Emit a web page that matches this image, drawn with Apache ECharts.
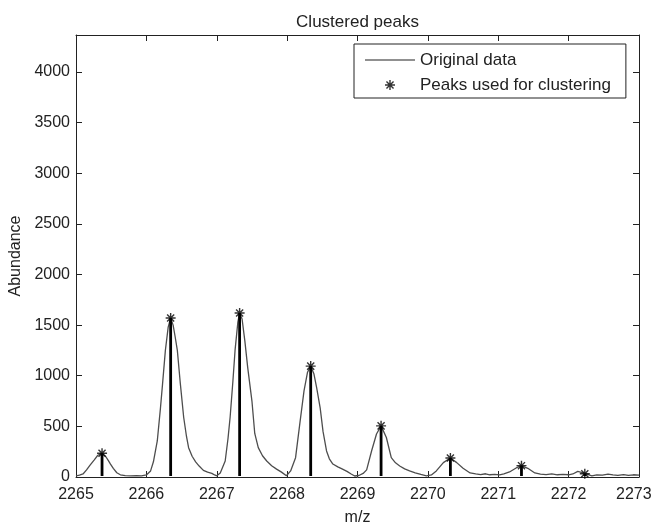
<!DOCTYPE html>
<html>
<head>
<meta charset="utf-8">
<title>Clustered peaks</title>
<script src="https://cdn.jsdelivr.net/npm/echarts@6/dist/echarts.min.js"></script>
<style>
  html, body { margin: 0; padding: 0; background: #fff; }
  #chart { width: 652px; height: 524px; }
</style>
</head>
<body>
<div id="chart"></div>
<script>
// Raw spectrum: m/z positions and abundance
const curveMz = [
  2265.00, 2265.05, 2265.10, 2265.15, 2265.20, 2265.26, 2265.31, 2265.37, 2265.42, 2265.46,
  2265.49, 2265.53, 2265.58, 2265.63, 2265.70, 2265.78, 2265.86, 2265.93, 2266.00, 2266.06,
  2266.10, 2266.155, 2266.20, 2266.23, 2266.27, 2266.31, 2266.345, 2266.38, 2266.41, 2266.44,
  2266.48, 2266.53, 2266.57, 2266.60, 2266.65, 2266.70, 2266.75, 2266.81, 2266.87, 2266.93,
  2266.97, 2267.00, 2267.05, 2267.12, 2267.16, 2267.19, 2267.23, 2267.26, 2267.30, 2267.325,
  2267.36, 2267.40, 2267.44, 2267.50, 2267.54, 2267.59, 2267.65, 2267.71, 2267.78, 2267.85,
  2267.92, 2267.99, 2268.05, 2268.12, 2268.18, 2268.24, 2268.29, 2268.335, 2268.38, 2268.42,
  2268.47, 2268.51, 2268.56, 2268.60, 2268.65, 2268.72, 2268.78, 2268.85, 2268.91, 2268.96,
  2269.02, 2269.08, 2269.13, 2269.20, 2269.27, 2269.335, 2269.41, 2269.48, 2269.54, 2269.60,
  2269.67, 2269.74, 2269.82, 2269.90, 2269.98, 2270.05, 2270.12, 2270.22, 2270.32, 2270.41,
  2270.50, 2270.60, 2270.68, 2270.75, 2270.82, 2270.88, 2270.95, 2271.02, 2271.08, 2271.16,
  2271.26, 2271.33, 2271.42, 2271.52, 2271.60, 2271.68, 2271.76, 2271.84, 2271.92, 2272.00,
  2272.06, 2272.13, 2272.23, 2272.33, 2272.40, 2272.48, 2272.56, 2272.63, 2272.70, 2272.78,
  2272.85, 2272.92, 2273.00
];
const curveAbundance = [
  12, 18, 30, 70, 118, 170, 215, 235, 205, 162,
  128, 85, 42, 22, 14, 12, 13, 12, 20, 60,
  150, 356, 680, 920, 1250, 1480, 1570, 1500, 1380, 1250,
  940, 590, 400, 290, 205, 150, 108, 65, 48, 36,
  20, 12, 40, 158, 380, 590, 950, 1250, 1530, 1620,
  1560, 1340, 1080, 750, 430, 290, 210, 158, 112, 78,
  48, 12, 60, 191, 525, 851, 1035, 1095, 1020, 880,
  680, 450, 257, 180, 128, 100, 80, 55, 30, 10,
  15, 35, 70, 257, 425, 505, 390, 191, 140, 109,
  80, 60, 40, 25, 12, 20, 60, 142, 188, 142,
  86, 40, 30, 24, 32, 22, 26, 20, 30, 50,
  92, 112, 86, 40, 28, 24, 30, 22, 26, 22,
  30, 55, 35, 12, 20, 18, 28, 20, 16, 24,
  15, 22, 18
];

// Detected peaks used for clustering
const peakMz = [2265.37, 2266.345, 2267.325, 2268.335, 2269.335, 2270.32, 2271.33, 2272.23];
const peakAbundance = [235, 1570, 1620, 1095, 505, 188, 112, 32];

// Axis ranges and tick steps
const mzMin = 2265, mzMax = 2273, mzStep = 1;
const abMin = 0, abMax = 4365, abStep = 500;

const FONT = '"Liberation Sans", Arial, sans-serif';
const INK = '#222';

// Asterisk marker built from four bars (same winding so the centre stays filled)
const ASTERISK = 'path://' +
  'M-0.7,-5 L0.7,-5 L0.7,5 L-0.7,5 Z ' +
  'M-5,-0.7 L5,-0.7 L5,0.7 L-5,0.7 Z ' +
  'M-4.03,-3.04 L-3.04,-4.03 L4.03,3.04 L3.04,4.03 Z ' +
  'M-3.04,4.03 L-4.03,3.04 L3.04,-4.03 L4.03,-3.04 Z';

// Plain horizontal stroke for the spectrum entry in the legend
const LINE_ICON = 'path://M0,0 L50,0 L50,1.2 L0,1.2 Z';

const curveData = curveMz.map((m, i) => [m, curveAbundance[i]]);
const peakData = peakMz.map((m, i) => [m, peakAbundance[i]]);

const axisLineStyle = { color: INK, width: 1 };
const tickStyle = { show: true, inside: true, length: 6, lineStyle: { color: INK, width: 1 } };

const chart = echarts.init(document.getElementById('chart'), null, { renderer: 'canvas' });

chart.setOption({
  backgroundColor: '#fff',
  animation: false,
  title: {
    text: 'Clustered peaks',
    left: 357.5,
    top: 14,
    textAlign: 'center',
    padding: 0,
    textStyle: { fontFamily: FONT, fontSize: 17, fontWeight: 'normal', color: INK }
  },
  legend: {
    orient: 'vertical',
    left: 354,
    top: 44,
    padding: [6, 15, 3, 11],
    itemWidth: 50,
    itemHeight: 10,
    itemGap: 5,
    selectedMode: false,
    borderColor: INK,
    borderWidth: 1,
    borderRadius: 0,
    backgroundColor: '#fff',
    textStyle: { fontFamily: FONT, fontSize: 17, color: INK, lineHeight: 20 },
    data: [
      { name: 'Original data', icon: LINE_ICON, itemStyle: { color: INK } },
      { name: 'Peaks used for clustering' }
    ]
  },
  grid: { left: 76, right: 13, top: 35, bottom: 47, containLabel: false, outerBoundsMode: 'none' },
  xAxis: [
    {
      type: 'value', min: mzMin, max: mzMax, interval: mzStep, position: 'bottom',
      name: 'm/z', nameLocation: 'middle', nameGap: 33,
      nameTextStyle: { fontFamily: FONT, fontSize: 16, color: INK },
      axisLine: { show: true, onZero: false, lineStyle: axisLineStyle },
      axisTick: tickStyle,
      axisLabel: {
        fontFamily: FONT, fontSize: 16, color: INK, margin: 10, hideOverlap: false,
        formatter: v => (v === mzMax ? '{last|' + v + '}' : String(v)),
        rich: { last: { fontFamily: FONT, fontSize: 16, color: INK, width: 46, align: 'left' } }
      },
      splitLine: { show: false }
    },
    {
      type: 'value', min: mzMin, max: mzMax, interval: mzStep, position: 'top',
      axisLine: { show: true, onZero: false, lineStyle: axisLineStyle },
      axisTick: tickStyle,
      axisLabel: { show: false },
      splitLine: { show: false }
    }
  ],
  yAxis: [
    {
      type: 'value', min: abMin, max: abMax, interval: abStep, position: 'left',
      name: 'Abundance', nameLocation: 'middle', nameGap: 44, nameRotate: 90,
      nameTextStyle: { fontFamily: FONT, fontSize: 16, color: INK },
      axisLine: { show: true, onZero: false, lineStyle: axisLineStyle },
      axisTick: tickStyle,
      axisLabel: {
        fontFamily: FONT, fontSize: 16, color: INK, margin: 6,
        formatter: v => (v % abStep === 0 ? String(v) : '')
      },
      splitLine: { show: false }
    },
    {
      type: 'value', min: abMin, max: abMax, interval: abStep, position: 'right',
      axisLine: { show: true, onZero: false, lineStyle: axisLineStyle },
      axisTick: tickStyle,
      axisLabel: { show: false },
      splitLine: { show: false }
    }
  ],
  series: [
    {
      name: 'Original data',
      type: 'line',
      xAxisIndex: 0, yAxisIndex: 0,
      data: curveData,
      symbol: 'none',
      showSymbol: false,
      color: '#4d4d4d',
      lineStyle: { color: '#4d4d4d', width: 1.3 },
      z: 2
    },
    {
      name: 'stems',
      type: 'custom',
      xAxisIndex: 0, yAxisIndex: 0,
      data: peakData,
      encode: { x: 0, y: 1 },
      renderItem: (params, api) => {
        const top = api.coord([api.value(0), api.value(1)]);
        const base = api.coord([api.value(0), 0]);
        return {
          type: 'line',
          shape: { x1: base[0], y1: base[1] - 1, x2: top[0], y2: top[1] },
          style: { stroke: '#000', lineWidth: 2.8 }
        };
      },
      z: 3
    },
    {
      name: 'Peaks used for clustering',
      type: 'scatter',
      xAxisIndex: 0, yAxisIndex: 0,
      data: peakData,
      symbol: ASTERISK,
      symbolSize: 10,
      itemStyle: { color: '#000' },
      z: 4
    }
  ]
});
</script>
</body>
</html>
